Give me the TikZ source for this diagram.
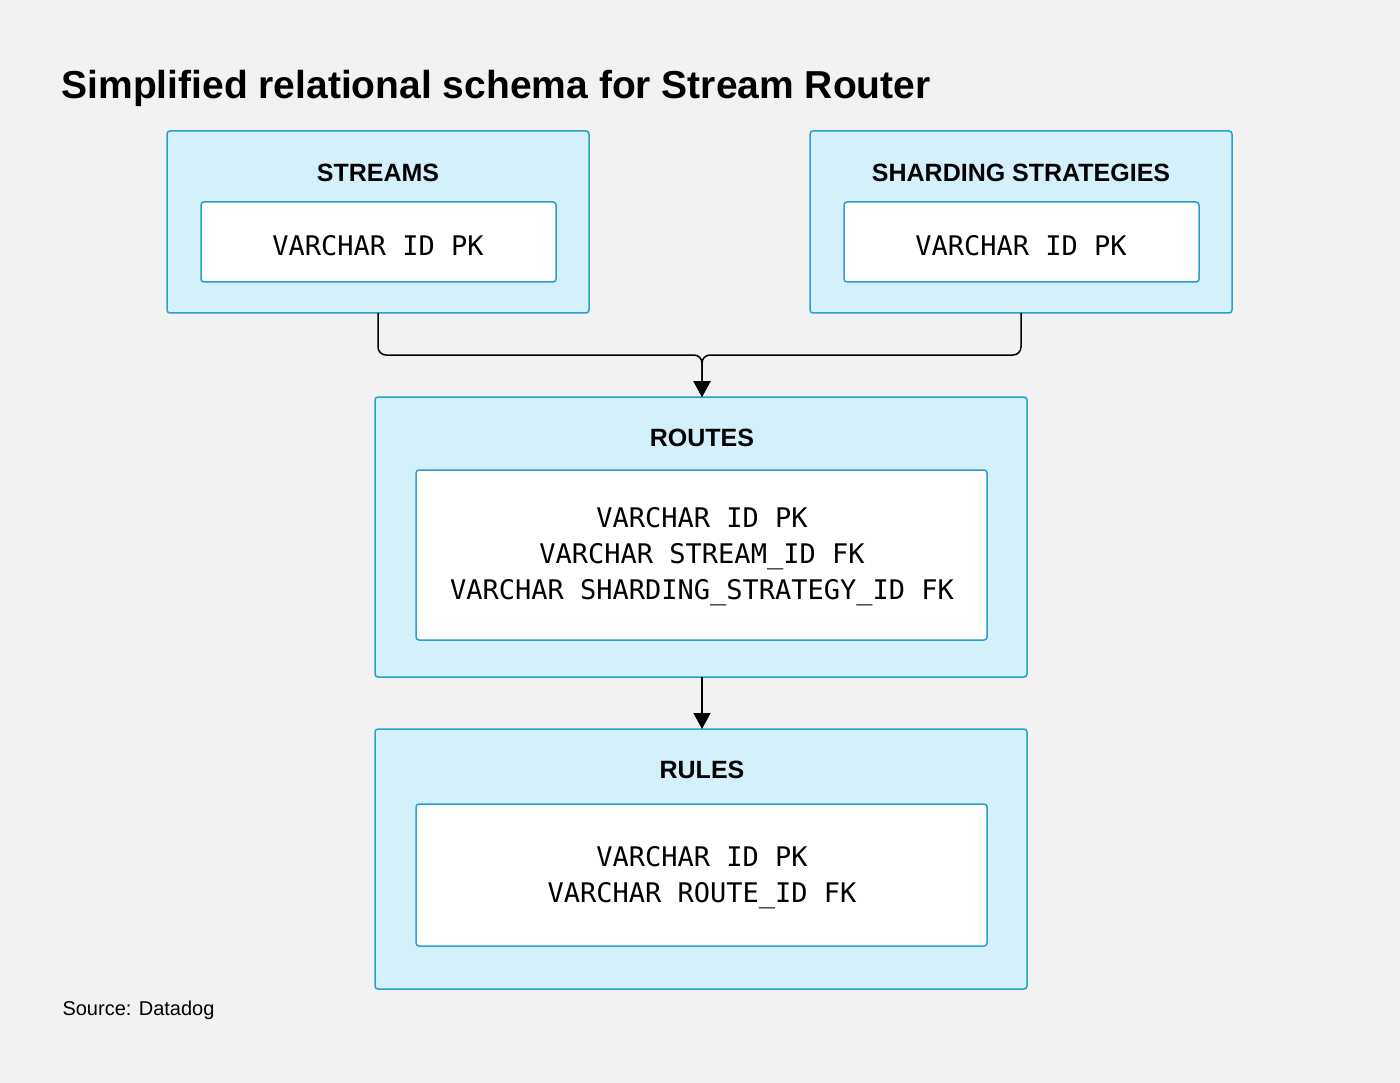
\documentclass[tikz,border=0pt]{standalone}
\usepackage{fontspec}
\setmainfont{Liberation Sans}
\setmonofont{DejaVu Sans Mono}
\usetikzlibrary{arrows.meta}
\definecolor{bg}{HTML}{F2F2F2}
\definecolor{lb}{HTML}{D4F1FB}
\definecolor{bd}{HTML}{2A9FD0}
\begin{document}
\begin{tikzpicture}[x=1pt,y=-1pt,
 outer/.style={draw=bd,fill=lb,line width=1.5pt,rounded corners=3pt},
 inner/.style={draw=bd,fill=white,line width=1.5pt,rounded corners=3pt},
 ttl/.style={font=\fontsize{25}{28}\selectfont\bfseries},
 mono/.style={font=\fontsize{27}{36}\selectfont\ttfamily,align=center},
 conn/.style={line width=1.5pt,rounded corners=8pt,-{Triangle[length=16pt,width=17pt]}}]
\fill[bg] (0,0) rectangle (1400,1083);
\node[anchor=west,font=\fontsize{39}{44}\selectfont\bfseries] (title) at (58,88) {Simplified relational schema for Stream Router};
\node[anchor=west,font=\fontsize{20}{22}\selectfont] (src) at (59,1010) {Source: Datadog};
% streams
\draw[outer] (167,131) rectangle (589,313);
\node[ttl] (t1) at (378,173) {STREAMS};
\draw[inner] (201,202) rectangle (556,282);
\node[mono] (m1) at (378,246) {VARCHAR ID PK};
% sharding
\draw[outer] (810,131) rectangle (1232,313);
\node[ttl] (t2) at (1021,173) {SHARDING STRATEGIES};
\draw[inner] (844,202) rectangle (1199,282);
\node[mono] (m2) at (1021,246) {VARCHAR ID PK};
% routes
\draw[outer] (375,397) rectangle (1027,677);
\node[ttl] (t3) at (702,438) {ROUTES};
\draw[inner] (416,470) rectangle (987,640);
\node[mono] (m3) at (702,557) {VARCHAR ID PK\\VARCHAR STREAM\_ID FK\\VARCHAR SHARDING\_STRATEGY\_ID FK};
% rules
\draw[outer] (375,729) rectangle (1027,989);
\node[ttl] (t4) at (702,770) {RULES};
\draw[inner] (416,804) rectangle (987,946);
\node[mono] (m4) at (702,878) {VARCHAR ID PK\\VARCHAR ROUTE\_ID FK};
\coordinate (s1) at (378,313);
\coordinate (s2) at (1021,313);
\coordinate (r) at (702,397);
\coordinate (r2) at (702,677);
\coordinate (u) at (702,729);
\draw[conn] (s1) -- (378,355) -- (702,355) -- (r);
\draw[conn] (s2) -- (1021,355) -- (702,355) -- (r);
\draw[conn] (r2) -- (u);
\end{tikzpicture}
\end{document}
